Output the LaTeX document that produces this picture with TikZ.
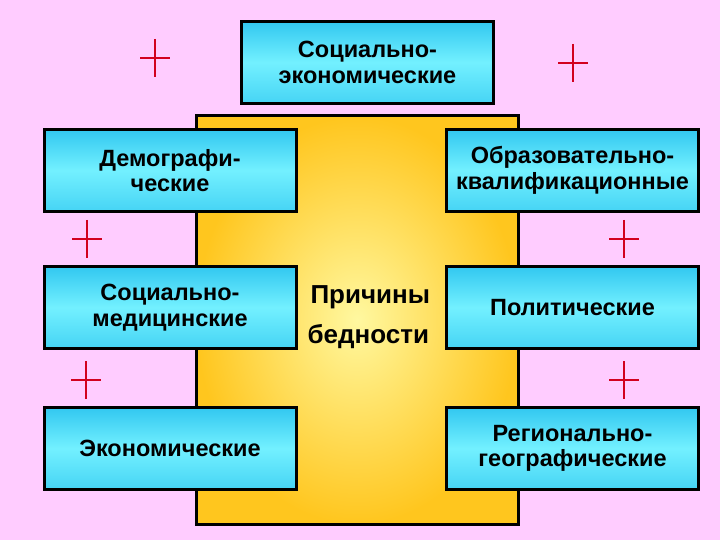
\documentclass[tikz,border=0pt]{standalone}
\usepackage{fontspec}
\setmainfont{Liberation Sans}
\usetikzlibrary{positioning}
\definecolor{pinkbg}{RGB}{255,204,255}
\definecolor{goldedge}{RGB}{255,198,30}
\definecolor{goldmid}{RGB}{255,248,160}
\definecolor{cyanedge}{RGB}{50,200,240}
\definecolor{cyanmid}{RGB}{115,240,255}
\definecolor{crossred}{RGB}{210,0,30}

\begin{document}
\begin{tikzpicture}[x=1pt,y=-1pt,
  cause/.style={rectangle,draw,line width=3pt,
    minimum width=252pt,minimum height=82pt,
    top color=cyanedge,bottom color=cyanedge!70!cyanmid,middle color=cyanmid,
    align=center},
  plusmark/.style={draw=crossred,line width=2.8pt},
  font=\fontsize{23.5}{25.5}\selectfont\bfseries]
  \useasboundingbox[fill=pinkbg] (0,0) rectangle (720,540);
  % central panel
  \draw[line width=3pt,inner color=goldmid,outer color=goldedge]
    (196,116) rectangle (518,524);
  \node[anchor=base west,font=\fontsize{26}{30}\selectfont\bfseries] (why1) at (307,303) {Причины};
  \node[anchor=base west,font=\fontsize{26}{30}\selectfont\bfseries] (why2) at (304,343) {бедности};
  % kinds of causes
  \node[cause] (soceco) at (367.5,62.5) {Социально-\\экономические};
  \node[cause] (demo) at (170,170.5) {Демографи-\\ческие};
  \node[cause] (socmed) at (170,307.5) {Социально-\\медицинские};
  \node[cause] (econ) at (170,448.5) {Экономические};
  \node[cause] (edu) at (572.5,170.5) {Образовательно-\\квалификационные};
  \node[cause] (pol) at (572.5,307.5) {Политические};
  \node[cause] (reg) at (572.5,448.5) {Регионально-\\географические};
  % red crosses
  \foreach \cx/\cy in {155/58,573/63,87/239,624/239,86/380,624/380}
    \draw[plusmark] (\cx,\cy-19) -- (\cx,\cy+19)
                    (\cx-15,\cy) -- (\cx+15,\cy);
\end{tikzpicture}
\end{document}
